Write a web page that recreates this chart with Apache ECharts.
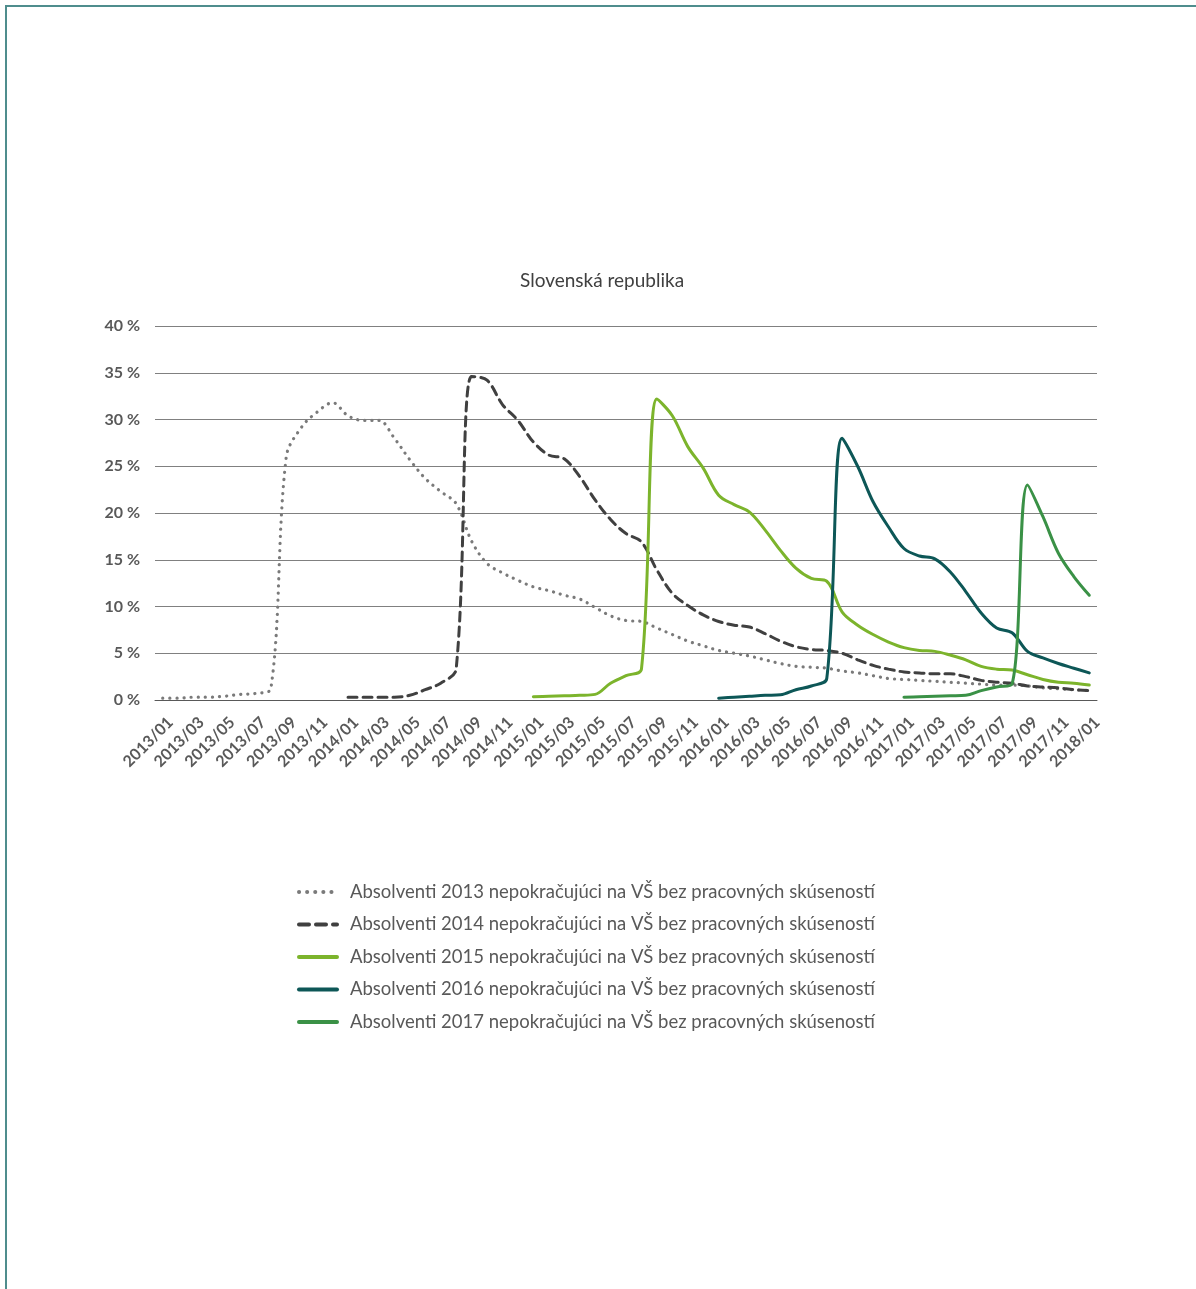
<!DOCTYPE html>
<html>
<head>
<meta charset="utf-8">
<script src="https://cdn.jsdelivr.net/npm/echarts@6/dist/echarts.min.js"></script>
<style>
html,body{margin:0;padding:0;background:#fff;}
#frame{position:absolute;left:5px;top:5px;width:1191px;height:1284px;border-top:2px solid #4f8d8d;border-left:2px solid #4f8d8d;box-sizing:border-box;}
#chart{position:absolute;left:0;top:0;width:1196px;height:1289px;}
</style>
</head>
<body>
<div id="frame"></div>
<div id="chart"></div>
<script>
const categories = [];
for (let y = 2013; y <= 2018; y++) {
  for (let m = 1; m <= 12; m++) {
    if (y === 2018 && m > 1) break;
    categories.push(y + '/' + (m < 10 ? '0' + m : m));
  }
}
const title = 'Slovenská republika';
const seriesNames = [
  'Absolventi 2013 nepokračujúci na VŠ bez pracovných skúseností',
  'Absolventi 2014 nepokračujúci na VŠ bez pracovných skúseností',
  'Absolventi 2015 nepokračujúci na VŠ bez pracovných skúseností',
  'Absolventi 2016 nepokračujúci na VŠ bez pracovných skúseností',
  'Absolventi 2017 nepokračujúci na VŠ bez pracovných skúseností'
];
const s2013 = [0.2,0.2,0.3,0.3,0.4,0.6,0.7,1.2,26.0,29.2,30.8,31.8,30.4,29.9,29.9,28.0,25.7,23.7,22.3,21.0,17.0,14.6,13.6,12.8,12.1,11.7,11.2,10.8,9.9,9.0,8.5,8.4,7.7,7.0,6.3,5.8,5.3,5.0,4.7,4.3,3.9,3.6,3.5,3.4,3.1,2.9,2.6,2.3,2.2,2.1,2.0,1.9,1.8,1.7,1.6,1.6,1.5,1.3,1.2,1.1,1.0];
const s2014 = [null,null,null,null,null,null,null,null,null,null,null,null,0.3,0.3,0.3,0.3,0.5,1.1,1.8,3.3,34.6,34.2,31.6,29.9,27.6,26.2,25.8,23.9,21.4,19.3,17.8,16.9,13.9,11.4,10.1,9.1,8.4,8.0,7.8,7.1,6.3,5.7,5.4,5.3,5.0,4.3,3.7,3.3,3.0,2.9,2.8,2.8,2.5,2.1,1.9,1.8,1.5,1.4,1.3,1.1,1.0];
const s2015 = [null,null,null,null,null,null,null,null,null,null,null,null,null,null,null,null,null,null,null,null,null,null,null,null,0.35,0.4,0.45,0.5,0.6,1.8,2.6,3.3,32.2,30.4,27.1,24.8,21.9,20.9,20.1,18.2,16.0,14.1,13.0,12.7,9.4,8.0,7.0,6.2,5.6,5.3,5.2,4.8,4.3,3.6,3.3,3.2,2.7,2.2,1.9,1.8,1.6];
const s2016 = [null,null,null,null,null,null,null,null,null,null,null,null,null,null,null,null,null,null,null,null,null,null,null,null,null,null,null,null,null,null,null,null,null,null,null,null,0.2,0.3,0.4,0.5,0.55,1.1,1.5,2.3,28.0,25.0,21.2,18.5,16.2,15.4,15.1,13.7,11.6,9.3,7.7,7.2,5.2,4.5,3.9,3.4,2.9];
const s2017 = [null,null,null,null,null,null,null,null,null,null,null,null,null,null,null,null,null,null,null,null,null,null,null,null,null,null,null,null,null,null,null,null,null,null,null,null,null,null,null,null,null,null,null,null,null,null,null,null,0.3,0.35,0.4,0.45,0.5,1.0,1.4,1.7,23.0,19.6,15.7,13.2,11.2];
const yTicks = [0,5,10,15,20,25,30,35,40];

const colors = ['#7a7a7a','#404040','#7cb42c','#0d5757','#3a9146'];
const lineTypes = [[0.1,7],[9,6],'solid','solid','solid'];
const widths = [3.2,3,3,3,3];
const datasets = [s2013,s2014,s2015,s2016,s2017];

const chart = echarts.init(document.getElementById('chart'), null, {renderer:'canvas'});
chart.setOption({
  animation:false,
  backgroundColor:'transparent',
  title:{text:title,left:515,top:266,textStyle:{fontFamily:'Lato',fontSize:19,fontWeight:'normal',color:'#404040'}},
  grid:{left:155,right:99,top:326,bottom:589,containLabel:false},
  legend:{
    orient:'vertical',left:292,top:877,itemWidth:38,itemHeight:10,itemGap:12.5,
    itemStyle:{opacity:0},
    lineStyle:{width:4},
    textStyle:{fontFamily:'Lato',fontSize:18.5,lineHeight:20,color:'#595959',padding:[0,0,0,8]},
    data:seriesNames.map((n,i)=>({name:n,lineStyle:{width:4,type:i===0?[0.1,8]:(i===1?[10,7]:'solid')}}))
  },
  xAxis:{
    type:'category',data:categories,boundaryGap:true,
    axisLine:{lineStyle:{color:'#595959',width:1}},
    axisTick:{show:false},
    axisLabel:{interval:1,rotate:45,fontFamily:'Lato',fontSize:16,fontWeight:'bold',color:'#595959',margin:12,verticalAlign:'top',lineHeight:22}
  },
  yAxis:{
    type:'value',min:0,max:40,interval:5,
    axisLine:{show:false},axisTick:{show:false},
    axisLabel:{formatter:'{value} %',fontFamily:'Lato',fontSize:16,fontWeight:'bold',color:'#595959',margin:15},
    splitLine:{lineStyle:{color:'#808080',width:1}}
  },
  series:datasets.map((d,i)=>({
    name:seriesNames[i],type:'line',data:d,smooth:0.35,symbol:'none',connectNulls:false,
    lineStyle:{color:colors[i],width:widths[i],type:lineTypes[i],cap:'round'},
    itemStyle:{color:colors[i]}
  }))
});
</script>
</body>
</html>
